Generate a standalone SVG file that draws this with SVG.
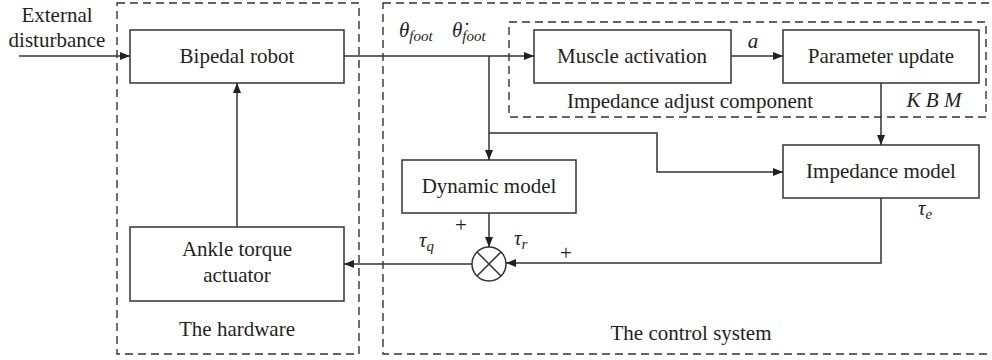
<svg xmlns="http://www.w3.org/2000/svg" width="992" height="360" viewBox="0 0 992 360">
<defs>
<marker id="arr" viewBox="0 0 10 8" refX="10" refY="4" markerWidth="10" markerHeight="8" markerUnits="userSpaceOnUse" orient="auto">
<path d="M0,0 L10,4 L0,8 Z" fill="#231f20"/>
</marker>
</defs>
<rect width="992" height="360" fill="#fff"/>
<g id="hardware-group" font-family="Liberation Serif" font-size="21" fill="#231f20">
<rect x="117" y="3" width="242" height="351" fill="none" stroke="#333" stroke-width="1.4" stroke-dasharray="8 5"/>
<text x="237" y="336" text-anchor="middle" font-family="Liberation Serif">The hardware</text>
</g>
<g id="control-group" font-family="Liberation Serif" font-size="21" fill="#231f20">
<rect x="383" y="3" width="614" height="351" fill="none" stroke="#333" stroke-width="1.4" stroke-dasharray="8 5"/>
<text x="691" y="340" text-anchor="middle" font-family="Liberation Serif">The control system</text>
</g>
<g id="impedance-adjust-group" font-family="Liberation Serif" font-size="21" fill="#231f20">
<rect x="509" y="22" width="477" height="95" fill="none" stroke="#333" stroke-width="1.4" stroke-dasharray="8 5"/>
<text x="690" y="108" text-anchor="middle" font-family="Liberation Serif">Impedance adjust component</text>
</g>
<g id="bipedal-robot" font-family="Liberation Serif" font-size="21" fill="#231f20">
<rect x="130" y="30" width="214" height="53" fill="#fff" stroke="#333" stroke-width="1.5"/>
<text x="237" y="63" text-anchor="middle" font-family="Liberation Serif">Bipedal robot</text>
</g>
<g id="ankle-actuator" font-family="Liberation Serif" font-size="21" fill="#231f20">
<rect x="130" y="227" width="214" height="74" fill="#fff" stroke="#333" stroke-width="1.5"/>
<text x="237" y="256" text-anchor="middle" font-family="Liberation Serif">Ankle torque</text>
<text x="237" y="282" text-anchor="middle" font-family="Liberation Serif">actuator</text>
</g>
<g id="muscle-activation" font-family="Liberation Serif" font-size="21" fill="#231f20">
<rect x="534" y="30" width="197" height="53" fill="#fff" stroke="#333" stroke-width="1.5"/>
<text x="632" y="63" text-anchor="middle" font-family="Liberation Serif">Muscle activation</text>
</g>
<g id="parameter-update" font-family="Liberation Serif" font-size="21" fill="#231f20">
<rect x="783" y="30" width="196" height="53" fill="#fff" stroke="#333" stroke-width="1.5"/>
<text x="881" y="63" text-anchor="middle" font-family="Liberation Serif">Parameter update</text>
</g>
<g id="dynamic-model" font-family="Liberation Serif" font-size="21" fill="#231f20">
<rect x="402" y="160" width="174" height="53" fill="#fff" stroke="#333" stroke-width="1.5"/>
<text x="489" y="193" text-anchor="middle" font-family="Liberation Serif">Dynamic model</text>
</g>
<g id="impedance-model" font-family="Liberation Serif" font-size="21" fill="#231f20">
<rect x="783" y="145" width="196" height="53" fill="#fff" stroke="#333" stroke-width="1.5"/>
<text x="881" y="178" text-anchor="middle" font-family="Liberation Serif">Impedance model</text>
</g>
<g id="sum" fill="none" stroke="#333" stroke-width="1.5">
<circle cx="489" cy="264" r="17" fill="#fff"/>
<path d="M477,252 L501,276 M501,252 L477,276"/>
</g>
<g id="connectors" fill="none" stroke="#333" stroke-width="1.5">
<path d="M19,56 H130" marker-end="url(#arr)"/>
<path d="M344,56 H534" marker-end="url(#arr)"/>
<path d="M731,56 H783" marker-end="url(#arr)"/>
<path d="M489,56 V160" marker-end="url(#arr)"/>
<path d="M489,133 H657 V172 H783" marker-end="url(#arr)"/>
<path d="M881,83 V145" marker-end="url(#arr)"/>
<path d="M489,213 V247" marker-end="url(#arr)"/>
<path d="M881,198 V263 H506" marker-end="url(#arr)"/>
<path d="M472,264 H344" marker-end="url(#arr)"/>
<path d="M237,227 V83" marker-end="url(#arr)"/>
</g>
<g id="labels" font-family="Liberation Serif" font-size="21" fill="#231f20">
<text x="57" y="22" text-anchor="middle" font-family="Liberation Serif">External</text>
<text x="57" y="47" text-anchor="middle" font-family="Liberation Serif">disturbance</text>
<text x="399" y="37" font-family="Liberation Serif" font-style="italic">θ<tspan font-size="15" dy="4">foot</tspan></text>
<text x="452" y="37" font-family="Liberation Serif" font-style="italic">θ̇<tspan font-size="15" dy="4">foot</tspan></text>
<text x="753" y="48" text-anchor="middle" font-family="Liberation Serif" font-style="italic">a</text>
<text x="934" y="107" text-anchor="middle" font-family="Liberation Serif" font-style="italic">K B M</text>
<text x="918" y="215" font-family="Liberation Serif" font-style="italic">τ<tspan font-size="15" dy="4">e</tspan></text>
<text x="419" y="247" font-family="Liberation Serif" font-style="italic">τ<tspan font-size="15" dy="4">q</tspan></text>
<text x="514" y="245" font-family="Liberation Serif" font-style="italic">τ<tspan font-size="15" dy="4">r</tspan></text>
<text x="461" y="232" text-anchor="middle" font-family="Liberation Serif">+</text>
<text x="566" y="260" text-anchor="middle" font-family="Liberation Serif">+</text>
</g>
</svg>
